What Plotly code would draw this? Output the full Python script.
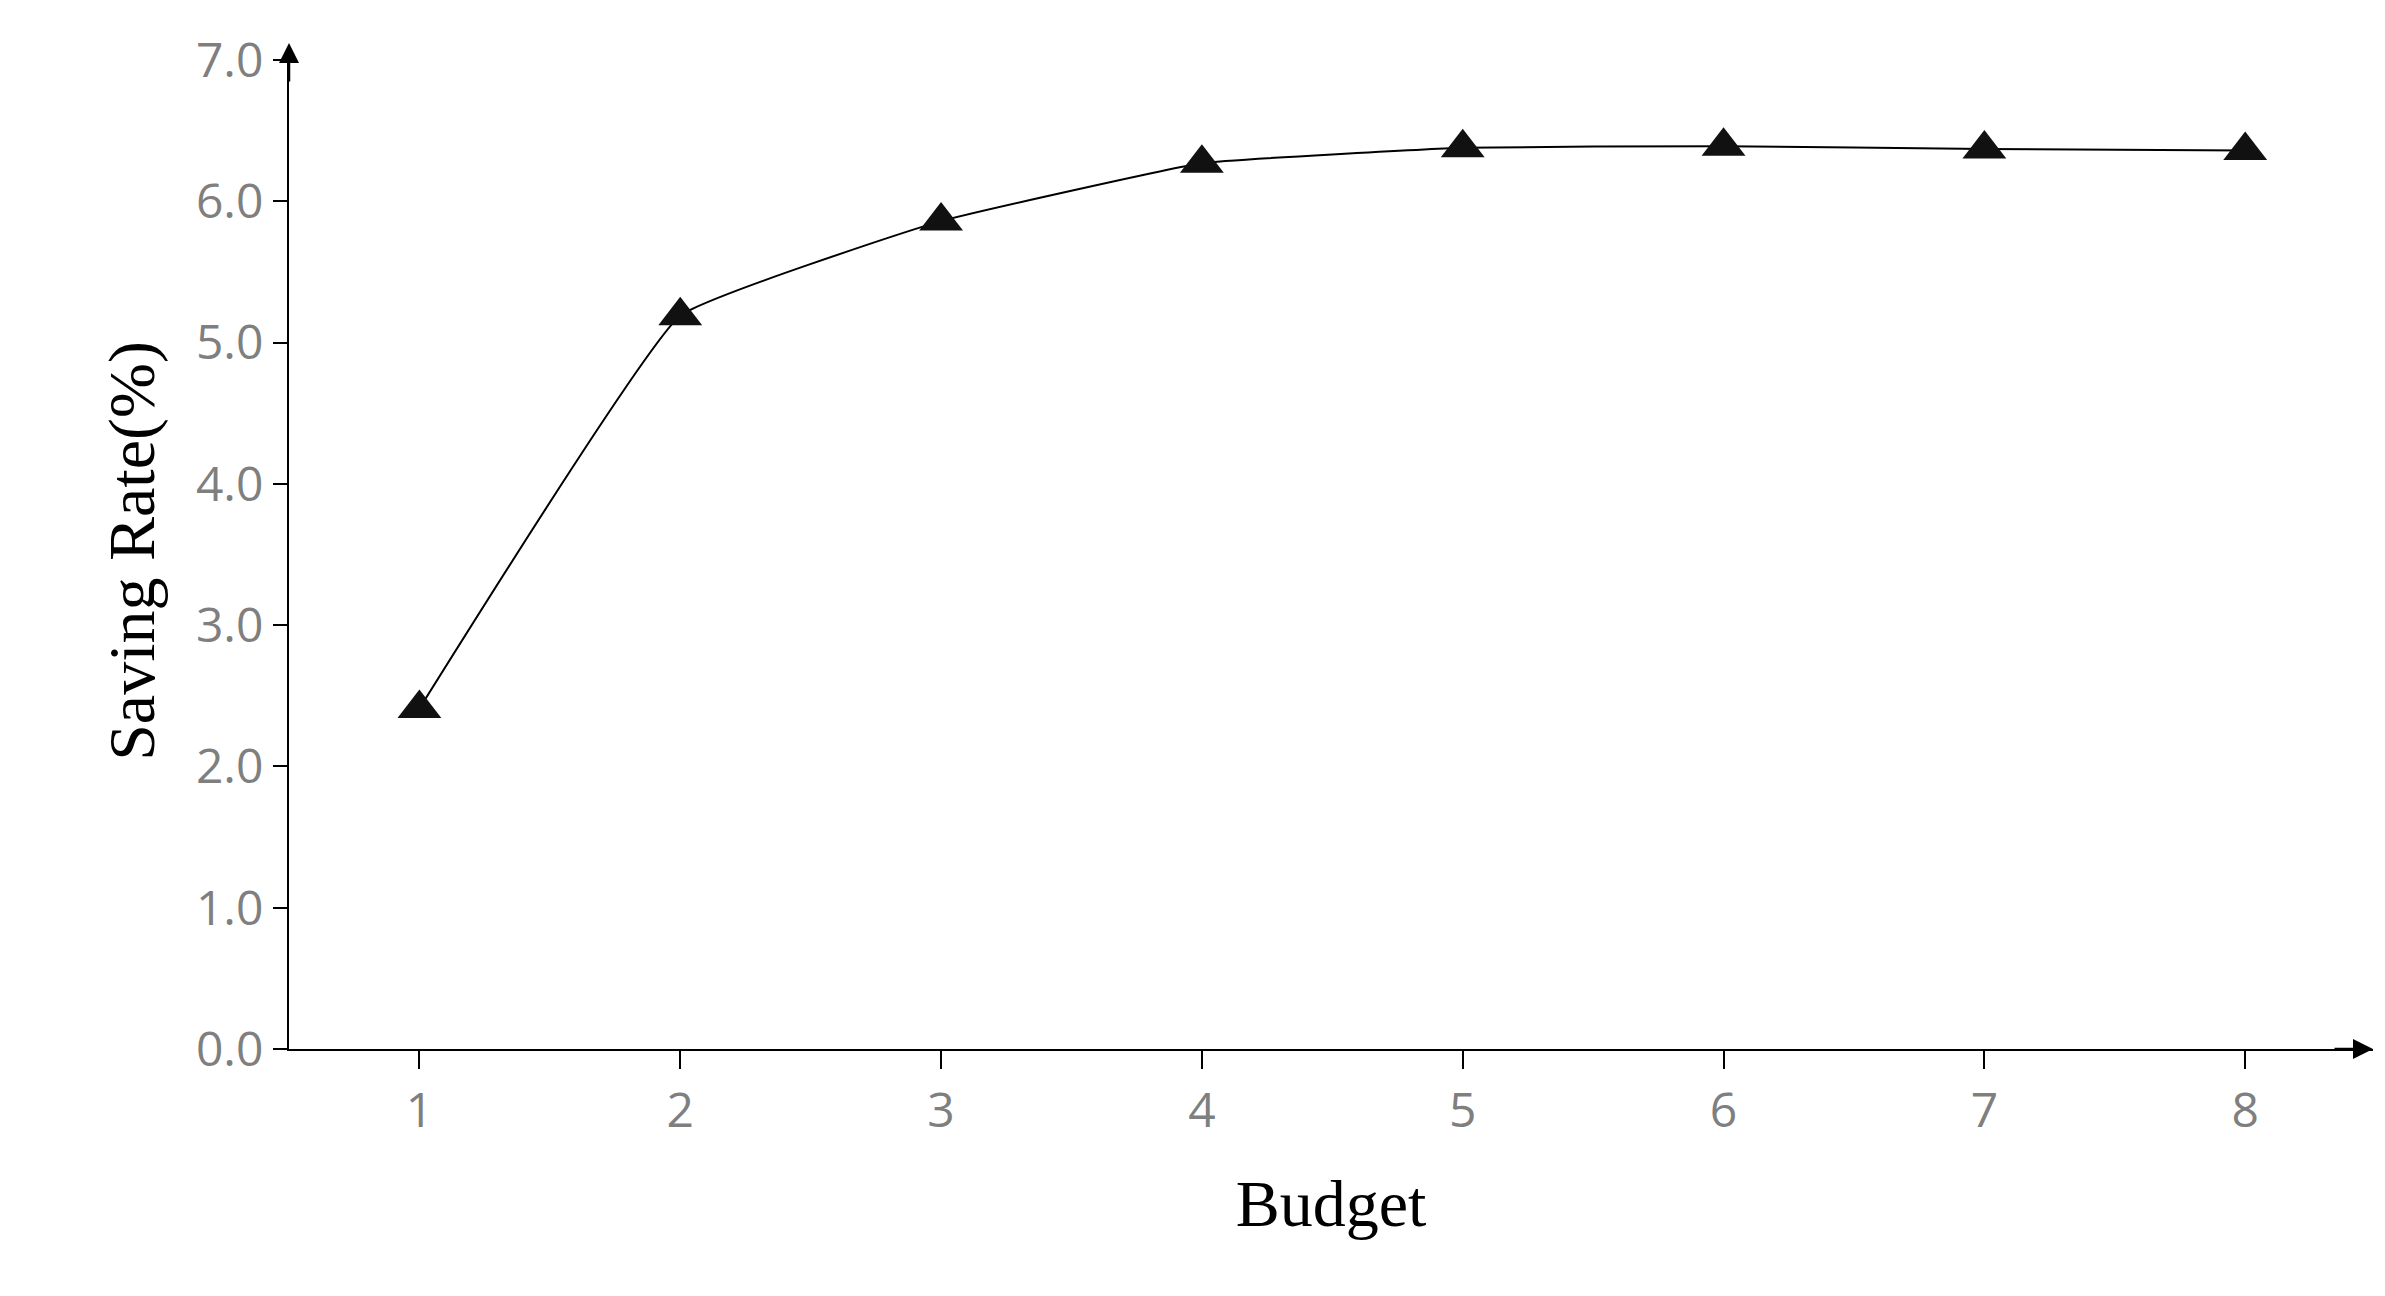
import plotly.graph_objects as go

budget = [1, 2, 3, 4, 5, 6, 7, 8]
saving_rate = [2.41, 5.19, 5.86, 6.27, 6.38, 6.39, 6.37, 6.36]
y_ticks = [0, 1, 2, 3, 4, 5, 6, 7]

fig = go.Figure(go.Scatter(
    x=budget, y=saving_rate, mode="lines+markers",
    line=dict(color="black", width=2, shape="spline", smoothing=0.3),
    marker=dict(symbol="triangle-up", size=38, color="#111"),
))

axis_font = dict(family="Open Sans", size=48, color="#7f7f7f")
title_font = dict(family="Liberation Serif", size=66, color="black")

fig.update_xaxes(range=[0.5, 8.49], tickvals=budget, ticks="outside", ticklen=18,
                 tickwidth=2, tickcolor="black", showline=True, linecolor="black",
                 linewidth=2, showgrid=False, zeroline=False, tickfont=axis_font,
                 title=dict(text="Budget", font=title_font, standoff=40))
fig.update_yaxes(range=[0, 7.05], tickvals=y_ticks, tickformat=".1f", ticks="outside",
                 ticklen=14, tickwidth=2, tickcolor="black", showline=True,
                 linecolor="black", linewidth=2, showgrid=False, zeroline=False,
                 tickfont=axis_font,
                 title=dict(text="Saving Rate(%)", font=title_font, standoff=20))

# axis arrows (offsets in pixels)
fig.add_annotation(xref="paper", yref="paper", x=0, y=1.01, ax=0, ay=40,
                   showarrow=True, arrowhead=2, arrowsize=1.6, arrowwidth=2.5,
                   arrowcolor="black", text="")
fig.add_annotation(xref="paper", yref="paper", x=1.0, y=0, ax=-40, ay=0,
                   showarrow=True, arrowhead=2, arrowsize=1.6, arrowwidth=2.5,
                   arrowcolor="black", text="")

fig.update_layout(width=2385, height=1296, showlegend=False,
                  margin=dict(l=281, r=20, t=45, b=255),
                  plot_bgcolor="white", paper_bgcolor="white")

fig.write_html("out.html")
